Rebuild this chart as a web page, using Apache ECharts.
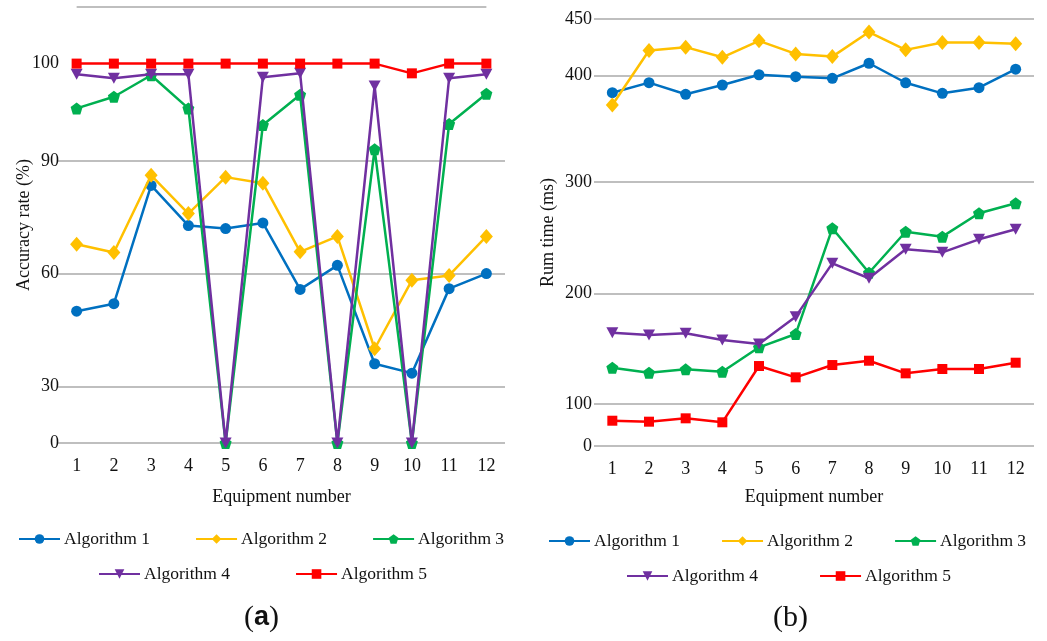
<!DOCTYPE html>
<html>
<head>
<meta charset="utf-8">
<script src="https://cdn.jsdelivr.net/npm/echarts@6/dist/echarts.min.js"></script>
<style>
html,body{margin:0;padding:0;background:#fff;}
#chart{width:1047px;height:641px;}
</style>
</head>
<body>
<div id="chart"></div>
<script>
// ---- data ----
const categories = ['1','2','3','4','5','6','7','8','9','10','11','12'];
const seriesNames = ['Algorithm 1','Algorithm 2','Algorithm 3','Algorithm 4','Algorithm 5'];

// (a) Accuracy rate (%)
const acc1 = [50.0, 52.0, 83.5, 72.8, 72.0, 73.5, 55.8, 62.2, 36.0, 33.5, 56.0, 60.0];
const acc2 = [67.8, 65.6, 86.2, 76.0, 85.7, 84.1, 65.8, 69.9, 40.0, 58.2, 59.5, 69.9];
const acc3 = [95.4, 96.6, 98.8, 95.4, 0, 93.7, 96.8, 0, 91.2, 0, 93.8, 96.9];
const acc4 = [98.9, 98.5, 98.9, 98.9, 0, 98.6, 99.0, 0, 97.7, 0, 98.5, 98.9];
const acc5 = [100, 100, 100, 100, 100, 100, 100, 100, 100, 99.0, 100, 100];

// (b) Run time (ms)
const time1 = [383.7, 393.1, 382.2, 390.9, 400.5, 398.7, 397.2, 410.7, 393.0, 383.1, 388.4, 405.4];
const time2 = [372.2, 422.0, 425.0, 416.0, 430.6, 419.0, 416.6, 438.4, 422.6, 429.1, 429.1, 428.0];
const time3 = [132.8, 128.3, 131.3, 129.2, 151.2, 163.2, 258.4, 218.5, 255.3, 250.9, 271.9, 280.9];
const time4 = [164.4, 162.3, 163.9, 157.8, 154.2, 178.9, 226.9, 213.5, 239.5, 236.8, 248.5, 257.5];
const time5 = [60.2, 57.9, 65.9, 56.4, 134.3, 124.1, 135.2, 139.1, 127.7, 131.6, 131.6, 137.3];

// tick labels of the (non-uniform) value axes
const accTicks = [0, 30, 60, 90, 100];
const timeTicks = [0, 100, 200, 300, 400, 450];

// ---- piecewise axis scale (the original figure spaces its ticks unevenly) ----
const accScale = { ticks: accTicks, stops: [0, 56.7, 169.4, 282, 379.4], max: 436 };
const timeScale = { ticks: timeTicks, stops: [0, 42, 152.7, 264, 370.7, 427], max: 427 };

function toAxis(v, sc) {
  const t = sc.ticks, s = sc.stops;
  for (let i = 0; i < t.length - 1; i++) {
    if (v <= t[i + 1] || i === t.length - 2) {
      return s[i] + (v - t[i]) / (t[i + 1] - t[i]) * (s[i + 1] - s[i]);
    }
  }
}
function fromAxis(p, sc) {
  let best = 0, bd = Infinity;
  sc.stops.forEach((s, i) => { const d = Math.abs(s - p); if (d < bd) { bd = d; best = i; } });
  return String(sc.ticks[best]);
}

const colors = ['#0070C0', '#FFC000', '#00B050', '#7030A0', '#FF0000'];
const symbols = [
  'circle',
  'diamond',
  'path://M5,0 L10,3.8 L8.1,10 L1.9,10 L0,3.8 Z',
  'path://M0,0 L10,0 L5,10 Z',
  'rect'
];
const symbolSizes = [11, [13, 15], 12, [12, 11], 10];
const FONT = 'Liberation Serif';

function makeSeries(arrays, sc, gridIdx) {
  return arrays.map((arr, i) => ({
    name: seriesNames[i],
    type: 'line',
    xAxisIndex: gridIdx,
    yAxisIndex: gridIdx,
    data: arr.map(v => toAxis(v, sc)),
    symbol: symbols[i],
    symbolSize: symbolSizes[i],
    showAllSymbol: true,
    lineStyle: { color: colors[i], width: 2.5 },
    itemStyle: { color: colors[i] },
    emphasis: { disabled: true },
    animation: false,
    z: 2 + i
  }));
}

const accSeries = makeSeries([acc1, acc2, acc3, acc4, acc5], accScale, 0);
const timeSeries = makeSeries([time1, time2, time3, time4, time5], timeScale, 1);

// top border line of panel (a)
accSeries[0].markLine = {
  silent: true, symbol: 'none', label: { show: false }, animation: false,
  lineStyle: { color: '#BFBFBF', width: 2, type: 'solid' },
  data: [[{ xAxis: 0, yAxis: accScale.max }, { xAxis: 11, yAxis: accScale.max }]]
};

function xAxisCfg(gridIdx, gap) {
  return {
    type: 'category', gridIndex: gridIdx, data: categories, boundaryGap: true,
    axisLine: { show: false }, axisTick: { show: false },
    axisLabel: { color: '#111', fontFamily: FONT, fontSize: 18, margin: 14 },
    name: 'Equipment number', nameLocation: 'middle', nameGap: gap,
    nameMoveOverlap: false,
    nameTextStyle: { color: '#111', fontFamily: FONT, fontSize: 18 },
    splitLine: { show: false }
  };
}
function yAxisCfg(gridIdx, sc, gridStops, name, gap, margin) {
  return {
    type: 'value', gridIndex: gridIdx, min: 0, max: sc.max,
    axisLine: { show: false },
    axisTick: { show: false, customValues: gridStops },
    axisLabel: {
      customValues: sc.stops, color: '#111', fontFamily: FONT, fontSize: 18, margin: margin,
      formatter: v => fromAxis(v, sc)
    },
    splitLine: { show: true, lineStyle: { color: '#BFBFBF', width: 2 } },
    name: name, nameLocation: 'middle', nameGap: gap,
    nameMoveOverlap: false,
    nameTextStyle: { color: '#111', fontFamily: FONT, fontSize: 18 }
  };
}

function legendRow(names, left, top, gap) {
  return {
    data: names, left: left, top: top, itemGap: gap, orient: 'horizontal', padding: 0,
    itemWidth: 41, itemHeight: 12, selectedMode: false,
    textStyle: { color: '#111', fontFamily: FONT, fontSize: 17.5, padding: [0, 0, 0, -1] }
  };
}

const option = {
  backgroundColor: '#fff',
  animation: false,
  grid: [
    { left: 58, right: 542, top: 7, bottom: 198 },
    { left: 594, right: 13, top: 19, bottom: 195 }
  ],
  xAxis: [xAxisCfg(0, 45), xAxisCfg(1, 42)],
  yAxis: [
    yAxisCfg(0, accScale, accScale.stops.slice(0, 4), 'Accuracy rate (%)', 25, -1),
    yAxisCfg(1, timeScale, timeScale.stops, 'Rum time (ms)', 37, 2)
  ],
  legend: [
    legendRow(seriesNames.slice(0, 3), 18, 530, 45),
    legendRow(seriesNames.slice(3), 98, 565, 65),
    legendRow(seriesNames.slice(0, 3), 548, 532, 41),
    legendRow(seriesNames.slice(3), 626, 567, 61)
  ],
  title: [
    {
      text: '{p|(}{b|a}{p|)}', left: 239, top: 598,
      textStyle: { rich: {
        p: { fontFamily: FONT, fontSize: 30, fontWeight: 'normal', color: '#111' },
        b: { fontFamily: 'Liberation Sans', fontSize: 27, fontWeight: 'bold', color: '#111' }
      } }
    },
    {
      text: '(b)', left: 768, top: 598,
      textStyle: { fontFamily: FONT, fontSize: 30, fontWeight: 'normal', color: '#111' }
    }
  ],
  series: accSeries.concat(timeSeries)
};

const chart = echarts.init(document.getElementById('chart'), null, { renderer: 'canvas' });
chart.setOption(option);
</script>
</body>
</html>
